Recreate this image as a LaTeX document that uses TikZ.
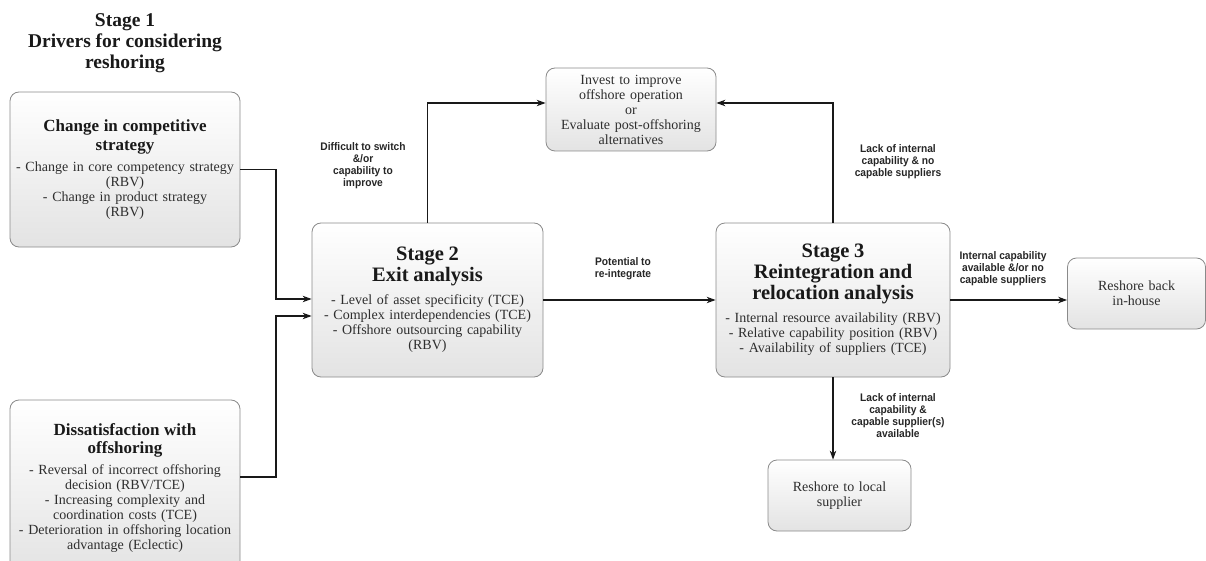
\documentclass[tikz,border=0pt]{standalone}
\usepackage{fontspec}
\setmainfont{Liberation Serif}
\newfontfamily\labfont[FakeStretch=0.93]{Liberation Sans}
\usetikzlibrary{arrows.meta}
\definecolor{boxline}{HTML}{8A8A8A}
\definecolor{bodytext}{HTML}{2E2E2E}
\newcommand{\stitle}{\bfseries\fontsize{17}{18.5}\selectfont\color{black!90}}
\newcommand{\btitle}{\bfseries\fontsize{20.5}{20.8}\selectfont\color{black!90}}
\newcommand{\bodyfnt}{\fontsize{14}{15}\selectfont}
\tikzset{
  box/.style={draw=boxline, line width=0.8pt, rounded corners=9pt, top color=white, bottom color=black!11,
    align=center, inner sep=0pt, text=bodytext, font=\bodyfnt},
  arr/.style={-{Stealth[length=9pt,width=6.5pt]}, line width=1.1pt, black!90},
  lab/.style={font=\labfont\bfseries\fontsize{11}{12}\selectfont, align=center, text=black!85, inner sep=0pt},
  ttl/.style={font=\bfseries\fontsize{19.5}{21}\selectfont, align=center, text=black!90},
}
\begin{document}
\begin{tikzpicture}[x=1pt,y=-1pt]
\useasboundingbox (0,0) rectangle (1206,561);
\clip (0,0) rectangle (1206,561);

\node[ttl] (T1) at (125,43) {Stage 1\\Drivers for considering\\reshoring};

\node[box, text width=230pt, minimum height=155pt] (A) at (125,169.5)
  {{\stitle Change in competitive\\strategy\par}\vspace{6pt}- Change in core competency strategy\\(RBV)\\- Change in product strategy\\(RBV)};

\node[box, text width=230pt, minimum height=176pt] (B) at (125,488)
  {{\stitle Dissatisfaction with\\offshoring\par}\vspace{6pt}- Reversal of incorrect offshoring\\decision (RBV/TCE)\\- Increasing complexity and\\coordination costs (TCE)\\- Deterioration in offshoring location\\advantage (Eclectic)};

\node[box, text width=231pt, minimum height=154pt] (S2) at (427.5,300)
  {{\btitle Stage 2\\Exit analysis\par}\vspace{8pt}- Level of asset specificity (TCE)\\- Complex interdependencies (TCE)\\- Offshore outsourcing capability\\(RBV)};

\node[box, text width=170pt, minimum height=83pt] (I) at (631,109.5)
  {Invest to improve\\offshore operation\\or\\Evaluate post-offshoring\\alternatives};

\node[box, text width=234pt, minimum height=154pt] (S3) at (833,300)
  {{\btitle Stage 3\\Reintegration and\\relocation analysis\par}\vspace{8pt}- Internal resource availability (RBV)\\- Relative capability position (RBV)\\- Availability of suppliers (TCE)};

\node[box, text width=138pt, minimum height=71pt] (R) at (1136.5,293.5)
  {Reshore back\\in-house};

\node[box, text width=143pt, minimum height=71pt] (L) at (839.5,495.5)
  {Reshore to local\\supplier};

\draw[arr] (A.east) -| (276,299) -- (S2.west |- 276,299);
\draw[arr] ([yshift=11pt]B.east) -| (276,316) -- (S2.west |- 276,316);
\draw[arr] (S2.north) |- ([yshift=6.5pt]I.west);
\draw[arr] (S3.north) |- ([yshift=6.5pt]I.east);
\draw[arr] (S2.east) -- (S3.west);
\draw[arr] (S3.east) -- (S3.east -| R.west);
\draw[arr] (S3.south) -- (S3.south |- L.north);

\node[lab] (lD) at (363,166) {Difficult to switch\\\&/or\\capability to\\improve};
\node[lab] (lP) at (623,269) {Potential to\\re-integrate};
\node[lab] (lL1) at (898,162) {Lack of internal\\capability \& no\\capable suppliers};
\node[lab] (lIC) at (1003,269) {Internal capability\\available \&/or no\\capable suppliers};
\node[lab] (lL2) at (898,416) {Lack of internal\\capability \&\\capable supplier(s)\\available};
\end{tikzpicture}
\end{document}
